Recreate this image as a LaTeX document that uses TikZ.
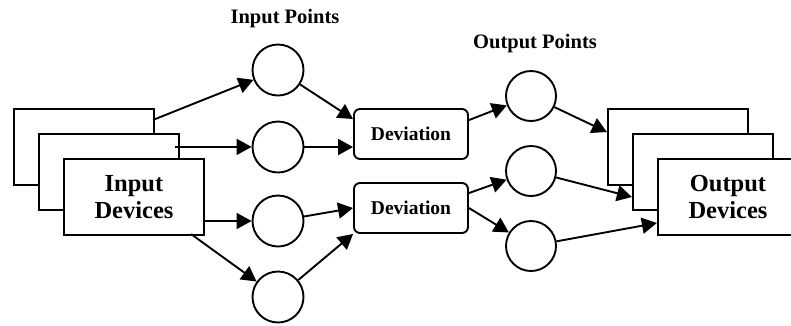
\documentclass[tikz,border=0pt]{standalone}
\usepackage{fontspec}
\setmainfont{Liberation Serif}
\usetikzlibrary{arrows.meta,calc}
\begin{document}
\begin{tikzpicture}[x=1pt,y=-1pt,
  devbox/.style={draw, line width=2.2pt, fill=white, minimum width=140pt,
    minimum height=76pt, inner sep=0pt, align=center,
    font=\fontsize{24.5}{27}\selectfont\bfseries},
  point/.style={circle, draw, line width=1.9pt, minimum size=51pt, inner sep=0pt},
  devn/.style={draw, rounded corners=6pt, line width=1.9pt, minimum width=114pt,
    minimum height=50pt, inner sep=0pt, font=\fontsize{19.5}{22}\selectfont\bfseries},
  heading/.style={font=\fontsize{20.5}{23}\selectfont\bfseries, anchor=base, inner sep=0pt},
  link/.style={line width=1.9pt, -{Triangle[length=15pt,width=16pt]}}]
\useasboundingbox (0,0) rectangle (791,325);
\clip (0,0) rectangle (791,325);

% stacked input device cards
\node[devbox] (in1) at (84,147) {};
\node[devbox] (in2) at (109,172) {};
\node[devbox] (in3) at (134,197) {Input\\Devices};

% stacked output device cards
\node[devbox] (out1) at (678,147) {};
\node[devbox] (out2) at (703,172) {};
\node[devbox] (out3) at (728,197) {Output\\Devices};

% input points
\node[point] (p1) at (278,70) {};
\node[point] (p2) at (278,147) {};
\node[point] (p3) at (278,221) {};
\node[point] (p4) at (278,297) {};

% output points
\node[point, minimum size=50pt] (q1) at (531,96) {};
\node[point, minimum size=50pt] (q2) at (531,171) {};
\node[point, minimum size=50pt] (q3) at (531,246) {};

% deviation blocks
\node[devn] (d1) at (411,134) {Deviation};
\node[devn] (d2) at (411,208) {Deviation};

% headings
\node[heading] (hin) at (285,23) {Input Points};
\node[heading] (hout) at (535,48) {Output Points};

% connector end points on the cards and blocks
\coordinate (s1) at ($(in1.north east)+(-2,12)$);
\coordinate (s2) at ($(in2.north east)+(-5,14)$);
\coordinate (s3) at ($(in3.east)+(-2,24)$);
\coordinate (s4) at ($(in3.south east)+(-14,-2)$);
\coordinate (t1) at ($(d1.north west)+(0,11)$);
\coordinate (u1) at ($(d1.north east)+(0,12)$);
\coordinate (u2) at ($(d2.north east)+(0,11)$);
\coordinate (v1) at ($(out1.west)+(0,-15)$);
\coordinate (v2) at ($(out2.west)+(0,25)$);
\coordinate (v3) at ($(out3.west)+(0,26)$);

% devices to input points
\draw[link] (s1) -- (p1);
\draw[link] (s2) -- (s2 -| p2.west);
\draw[link] (s3) -- (s3 -| p3.west);
\draw[link] (s4) -- (p4);

% input points to deviation blocks
\draw[link] (p1) -- (t1);
\draw[link] (p2) -- (d1.west |- p2);
\draw[link] (p3) -- (d2.west);
\draw[link] (p4) -- (d2.south west);

% deviation blocks to output points
\draw[link] (u1) -- (q1);
\draw[link] (u2) -- (q2);
\draw[link] (d2.east) -- (q3);

% output points to output devices
\draw[link] (q1) -- (v1);
\draw[link] (q2) -- (v2);
\draw[link] (q3) -- (v3);
\end{tikzpicture}
\end{document}
